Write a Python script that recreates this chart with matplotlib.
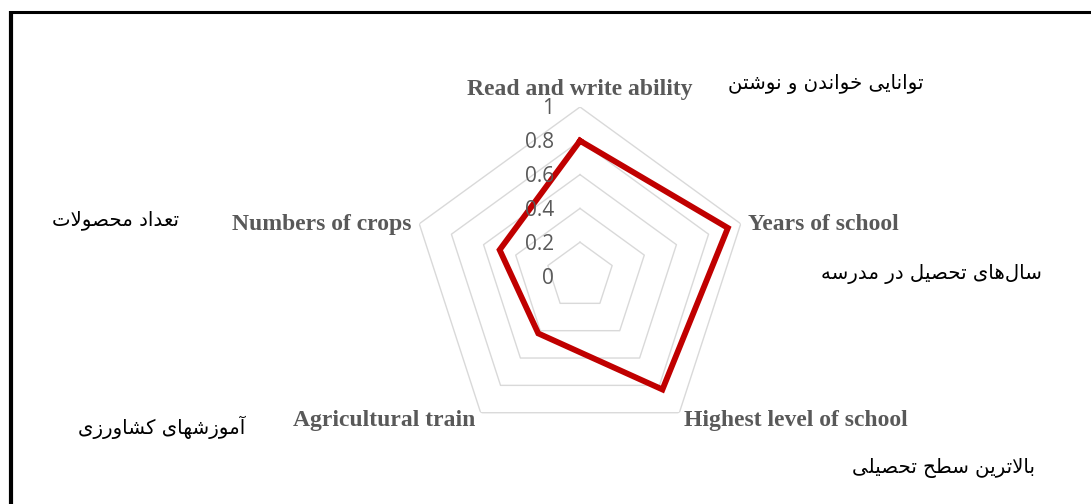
import numpy as np
import matplotlib
matplotlib.use('Agg')
import matplotlib.pyplot as plt
from matplotlib.lines import Line2D

# data
categories = ['Read and write ability', 'Years of school', 'Highest level of school',
              'Agricultural train', 'Numbers of crops']
persian_labels = ['توانایی خواندن و نوشتن', 'سال\u200cهای تحصیل در مدرسه', 'بالاترین سطح تحصیلی',
                  'آموزشهای کشاورزی', 'تعداد محصولات']
values = [0.8, 0.92, 0.83, 0.42, 0.5]
ticks = [0, 0.2, 0.4, 0.6, 0.8, 1]

W, H = 1091, 504

# --- simple arabic/persian shaping (matplotlib has no complex text layout) ---
FORMS = {
    'ا': ('\uFE8D', '\uFE8E'), 'آ': ('\uFE81', '\uFE82'),
    'ب': ('\uFE8F', '\uFE90', '\uFE91', '\uFE92'),
    'ت': ('\uFE95', '\uFE96', '\uFE97', '\uFE98'),
    'ح': ('\uFEA1', '\uFEA2', '\uFEA3', '\uFEA4'),
    'خ': ('\uFEA5', '\uFEA6', '\uFEA7', '\uFEA8'),
    'د': ('\uFEA9', '\uFEAA'), 'ر': ('\uFEAD', '\uFEAE'), 'ز': ('\uFEAF', '\uFEB0'),
    'س': ('\uFEB1', '\uFEB2', '\uFEB3', '\uFEB4'),
    'ش': ('\uFEB5', '\uFEB6', '\uFEB7', '\uFEB8'),
    'ص': ('\uFEB9', '\uFEBA', '\uFEBB', '\uFEBC'),
    'ط': ('\uFEC1', '\uFEC2', '\uFEC3', '\uFEC4'),
    'ع': ('\uFEC9', '\uFECA', '\uFECB', '\uFECC'),
    'ل': ('\uFEDD', '\uFEDE', '\uFEDF', '\uFEE0'),
    'م': ('\uFEE1', '\uFEE2', '\uFEE3', '\uFEE4'),
    'ن': ('\uFEE5', '\uFEE6', '\uFEE7', '\uFEE8'),
    'ه': ('\uFEE9', '\uFEEA', '\uFEEB', '\uFEEC'),
    'و': ('\uFEED', '\uFEEE'),
    'ی': ('\uFBFC', '\uFBFD', '\uFBFE', '\uFBFF'),
    'ک': ('\uFB8E', '\uFB8F', '\uFB90', '\uFB91'),
    'LA': ('\uFEFB', '\uFEFC'),
}


def shape(text):
    chars = []
    i = 0
    while i < len(text):
        if text[i] == 'ل' and i + 1 < len(text) and text[i + 1] == 'ا':
            chars.append('LA')
            i += 2
        else:
            chars.append(text[i])
            i += 1
    out = []
    for i, c in enumerate(chars):
        if c not in FORMS:
            if c != '\u200c':
                out.append(c)
            continue
        prev = chars[i - 1] if i > 0 else None
        nxt = chars[i + 1] if i + 1 < len(chars) else None
        pj = prev in FORMS and len(FORMS[prev]) == 4
        nj = len(FORMS[c]) == 4 and nxt in FORMS
        f = FORMS[c]
        if pj and nj:
            out.append(f[3])
        elif pj:
            out.append(f[1])
        elif nj:
            out.append(f[2])
        else:
            out.append(f[0])
    return ''.join(reversed(out))


fig = plt.figure(figsize=(W / 100, H / 100), dpi=100)
fig.patch.set_facecolor('white')

cx, cy, R = 580, 276, 169
ax = fig.add_axes([(cx - R) / W, (H - cy - R) / H, 2 * R / W, 2 * R / H], projection='polar')
ax.set_theta_offset(np.pi / 2)
ax.set_theta_direction(-1)
ax.set_ylim(0, 1)
ax.grid(False)
ax.set_xticks([])
ax.set_yticks([])
ax.spines['polar'].set_visible(False)
ax.patch.set_alpha(0)

n = len(categories)
angles = np.linspace(0, 2 * np.pi, n, endpoint=False)
closed = np.append(angles, angles[0])

# pentagon grid
for t in ticks[1:]:
    ax.plot(closed, [t] * (n + 1), color='#d9d9d9', lw=1.0, zorder=1)

vals = values + values[:1]
ax.plot(closed, vals, color='#c00000', lw=4.2, solid_joinstyle='miter', zorder=3)

# radial tick labels
for t in ticks:
    ax.annotate(f'{t:g}', xy=(0, t), xytext=(-26, -2), textcoords='offset pixels',
                ha='right', va='center', fontsize=15, color='#595959', family='Open Sans',
                annotation_clip=False)

# category labels
offsets = [(0, 18, 'center'), (7, -1, 'left'), (5, -8, 'left'), (-5, -8, 'right'), (-8, -1, 'right')]
for ang, lab, (dx, dy, ha) in zip(angles, categories, offsets):
    ax.annotate(lab, xy=(ang, 1), xytext=(dx, dy), textcoords='offset pixels',
                ha=ha, va='center', fontsize=17, fontweight='bold', color='#595959',
                family='Liberation Serif', annotation_clip=False)

# persian labels
fa_pos = [(826, 84), (931, 274), (944, 468), (162, 427), (116, 220)]
for lab, (x, y) in zip(persian_labels, fa_pos):
    fig.text(x / W, 1 - y / H, shape(lab), ha='center', va='center', fontsize=14.2,
             color='black', family='DejaVu Sans')

# frame lines
fig.add_artist(Line2D([11 / W, 11 / W], [1 - 11 / H, 0], color='black', lw=3,
                      solid_capstyle='butt', transform=fig.transFigure))
fig.add_artist(Line2D([9 / W, 1], [1 - 12 / H, 1 - 12 / H], color='black', lw=2.2,
                      solid_capstyle='butt', transform=fig.transFigure))

fig.savefig('out.png', dpi=100)
